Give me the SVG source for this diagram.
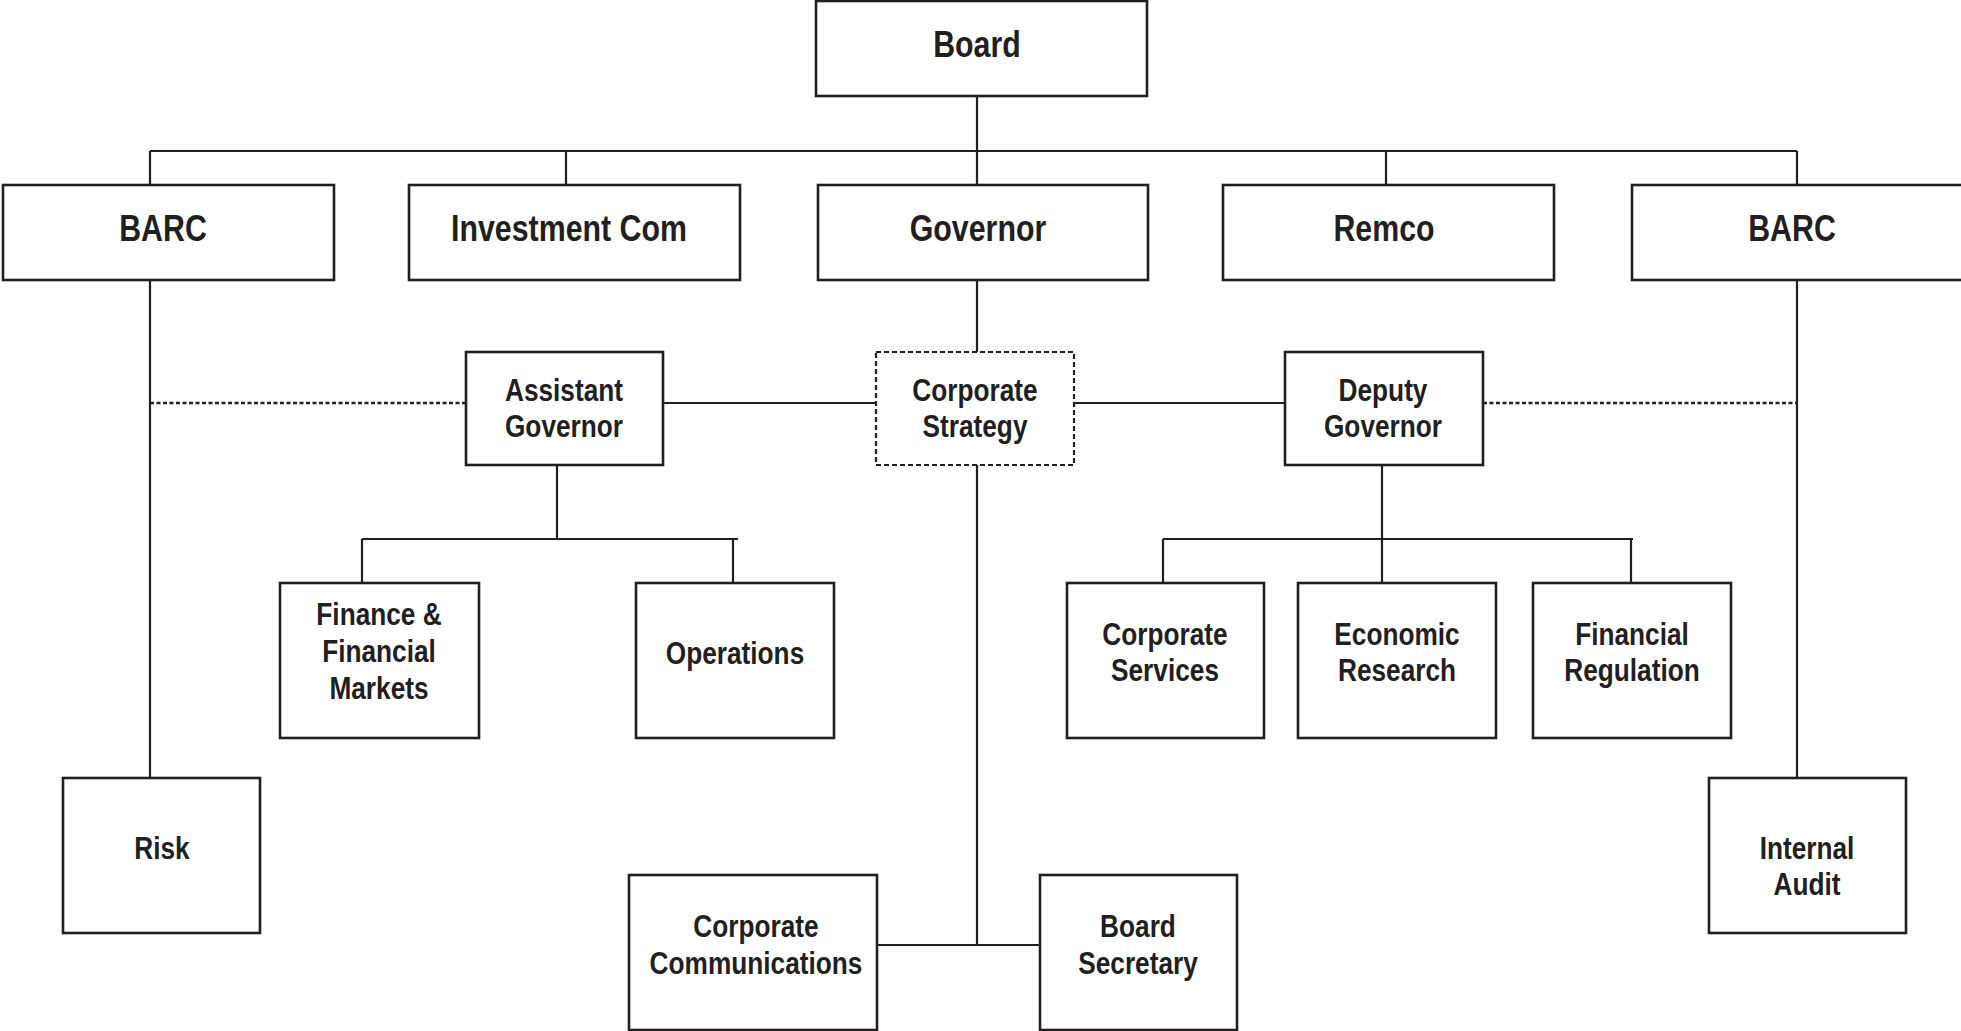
<svg xmlns="http://www.w3.org/2000/svg" width="1961" height="1031" viewBox="0 0 1961 1031">
<style>
.box{fill:#fff;stroke:#231f20;stroke-width:2.6}
.dbox{fill:#fff;stroke:#231f20;stroke-width:2.2;stroke-dasharray:5 3}
.ln{fill:none;stroke:#231f20;stroke-width:2.2}
.dot{fill:none;stroke:#231f20;stroke-width:2.4;stroke-dasharray:4 2.5}
text{font-family:"Liberation Sans",Arial,sans-serif;font-weight:bold;fill:#231f20;text-anchor:middle}
.t1{font-size:37px}
.t2{font-size:32px}
</style>
<rect width="1961" height="1031" fill="#fff"/>
<g id="connectors">
<path class="ln" d="M977 96V185M150 151H1797M150 151V185M566 151V185M1386 151V185M1797 151V185"/>
<path class="ln" d="M150 280V778M1797 280V778"/>
<path class="ln" d="M977 280V352M977 465V945M877 945H1040"/>
<path class="ln" d="M663 403H876M1074 403H1285"/>
<path class="dot" d="M150 403H465M1483 403H1797"/>
<path class="ln" d="M557 465V539M362 539H738M362 539V583M733 539V583"/>
<path class="ln" d="M1382 465V583M1163 539H1633M1163 539V583M1631 539V583"/>
</g>
<g id="board"><rect class="box" x="816" y="1" width="331" height="95"/><text class="t1" transform="translate(977 57) scale(.82 1)">Board</text></g>
<g id="barc-left"><rect class="box" x="3" y="185" width="331" height="95"/><text class="t1" transform="translate(163 241) scale(.82 1)">BARC</text></g>
<g id="investment-com"><rect class="box" x="409" y="185" width="331" height="95"/><text class="t1" transform="translate(569 241) scale(.82 1)">Investment Com</text></g>
<g id="governor"><rect class="box" x="818" y="185" width="330" height="95"/><text class="t1" transform="translate(978 241) scale(.82 1)">Governor</text></g>
<g id="remco"><rect class="box" x="1223" y="185" width="331" height="95"/><text class="t1" transform="translate(1384 241) scale(.82 1)">Remco</text></g>
<g id="barc-right"><rect class="box" x="1632" y="185" width="331" height="95"/><text class="t1" transform="translate(1792 241) scale(.82 1)">BARC</text></g>
<g id="assistant-governor"><rect class="box" x="466" y="352" width="197" height="113"/><text class="t2" transform="translate(564 401) scale(.82 1)">Assistant</text><text class="t2" transform="translate(564 437) scale(.82 1)">Governor</text></g>
<g id="corporate-strategy"><rect class="dbox" x="876" y="352" width="198" height="113"/><text class="t2" transform="translate(975 401) scale(.82 1)">Corporate</text><text class="t2" transform="translate(975 437) scale(.82 1)">Strategy</text></g>
<g id="deputy-governor"><rect class="box" x="1285" y="352" width="198" height="113"/><text class="t2" transform="translate(1383 401) scale(.82 1)">Deputy</text><text class="t2" transform="translate(1383 437) scale(.82 1)">Governor</text></g>
<g id="finance"><rect class="box" x="280" y="583" width="199" height="155"/><text class="t2" transform="translate(379 625) scale(.82 1)">Finance &amp;</text><text class="t2" transform="translate(379 662) scale(.82 1)">Financial</text><text class="t2" transform="translate(379 699) scale(.82 1)">Markets</text></g>
<g id="operations"><rect class="box" x="636" y="583" width="198" height="155"/><text class="t2" transform="translate(735 664) scale(.82 1)">Operations</text></g>
<g id="corporate-services"><rect class="box" x="1067" y="583" width="197" height="155"/><text class="t2" transform="translate(1165 645) scale(.82 1)">Corporate</text><text class="t2" transform="translate(1165 681) scale(.82 1)">Services</text></g>
<g id="economic-research"><rect class="box" x="1298" y="583" width="198" height="155"/><text class="t2" transform="translate(1397 645) scale(.82 1)">Economic</text><text class="t2" transform="translate(1397 681) scale(.82 1)">Research</text></g>
<g id="financial-regulation"><rect class="box" x="1533" y="583" width="198" height="155"/><text class="t2" transform="translate(1632 645) scale(.82 1)">Financial</text><text class="t2" transform="translate(1632 681) scale(.82 1)">Regulation</text></g>
<g id="risk"><rect class="box" x="63" y="778" width="197" height="155"/><text class="t2" transform="translate(162 859) scale(.82 1)">Risk</text></g>
<g id="internal-audit"><rect class="box" x="1709" y="778" width="197" height="155"/><text class="t2" transform="translate(1807 859) scale(.82 1)">Internal</text><text class="t2" transform="translate(1807 895) scale(.82 1)">Audit</text></g>
<g id="corporate-communications"><rect class="box" x="629" y="875" width="248" height="155"/><text class="t2" transform="translate(756 937) scale(.82 1)">Corporate</text><text class="t2" transform="translate(756 974) scale(.82 1)">Communications</text></g>
<g id="board-secretary"><rect class="box" x="1040" y="875" width="197" height="155"/><text class="t2" transform="translate(1138 937) scale(.82 1)">Board</text><text class="t2" transform="translate(1138 974) scale(.82 1)">Secretary</text></g>
</svg>
